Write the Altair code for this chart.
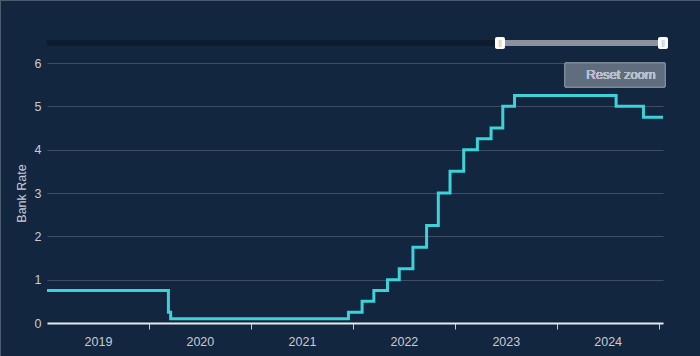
import altair as alt
import pandas as pd

# Bank Rate change dates and values
dates = ["2018-08-02", "2020-03-11", "2020-03-19", "2021-12-16", "2022-02-03",
         "2022-03-17", "2022-05-05", "2022-06-16", "2022-08-04", "2022-09-22",
         "2022-11-03", "2022-12-15", "2023-02-02", "2023-03-23", "2023-05-11",
         "2023-06-22", "2023-08-03", "2024-08-01", "2024-11-07", "2025-01-16"]
rates = [0.75, 0.25, 0.10, 0.25, 0.50,
         0.75, 1.00, 1.25, 1.75, 2.25,
         3.00, 3.50, 4.00, 4.25, 4.50,
         5.00, 5.25, 5.00, 4.75, 4.75]

x_start = "2019-01-01"
x_end = "2025-01-16"
tick_years = [2019, 2020, 2021, 2022, 2023, 2024, 2025]
y_ticks = [0, 1, 2, 3, 4, 5, 6]

BG = "#13263f"
FONT = "Liberation Sans"

df = pd.DataFrame({"date": dates, "rate": rates})

W, H = 616, 260

x_scale = alt.Scale(domain=[x_start, x_end])
x_axis = alt.Axis(
    title=None,
    values=[alt.DateTime(year=y, month=1, date=1) for y in tick_years],
    labelExpr="year(datum.value) < 2025 ? timeFormat(datum.value, '%Y') : ''",
    labelOffset=51,
    labelFlush=False,
    labelOverlap=False,
    labelColor="#c8ccd2",
    labelFontSize=12.5,
    labelPadding=6,
    domainColor="#e6e9ee",
    domainWidth=2,
    tickColor={"condition": {"test": "year(datum.value) == 2019", "value": "transparent"},
               "value": "#c8ccd2"},
    tickSize=6,
    grid=False,
)
y_axis = alt.Axis(
    title="Bank Rate",
    values=y_ticks,
    labelColor="#c8ccd2",
    labelFontSize=12.5,
    labelPadding=6,
    titleColor="#c8ccd2",
    titleFontSize=12.5,
    titleFontWeight="normal",
    titlePadding=6,
    domain=False,
    ticks=False,
    gridColor="#3e4e63",
    gridWidth=1,
)

line = alt.Chart(df).mark_line(
    interpolate="step-after", color="#3bd3d8", strokeWidth=3, clip=True
).encode(
    x=alt.X("date:T", scale=x_scale, axis=x_axis),
    y=alt.Y("rate:Q", scale=alt.Scale(domain=[0, 6]), axis=y_axis),
)

# navigator decorations
track = alt.Chart(df).mark_rule(color="#0e1c2f", strokeWidth=6).encode(
    x=alt.value(0), x2=alt.value(618), y=alt.value(-20)
)
sel = alt.Chart(df).mark_rule(color="#8a939e", strokeWidth=6).encode(
    x=alt.value(453), x2=alt.value(616), y=alt.value(-20)
)
handles_df = pd.DataFrame({"hx": [453, 616]})
handles = alt.Chart(handles_df).mark_rect(
    color="#ffffff", cornerRadius=2, width=10, height=12
).encode(x=alt.X("hx:Q", scale=None), y=alt.value(-20))
handle_lines = alt.Chart(handles_df).mark_text(
    text="||", color="#9aa3ad", fontSize=7, font=FONT
).encode(x=alt.X("hx:Q", scale=None), y=alt.value(-20))

# reset zoom button
button = alt.Chart(df).mark_rect(
    fill="#5f6d7f", stroke="#7d8997", strokeWidth=1
).encode(x=alt.value(518), x2=alt.value(618), y=alt.value(0), y2=alt.value(24))
button_text = alt.Chart(df).mark_text(
    text="Reset zoom", color="#b9c0c8", fontSize=13, fontWeight="normal", font=FONT,
    align="center", baseline="middle"
).encode(x=alt.value(574), y=alt.value(12))

# outer border
border_top = alt.Chart(df).mark_rule(color="#4d5d70", strokeWidth=1).encode(
    x=alt.value(-47), x2=alt.value(653), y=alt.value(-62.5)
)
border_left = alt.Chart(df).mark_rule(color="#4d5d70", strokeWidth=1).encode(
    x=alt.value(-46.5), y=alt.value(-63), y2=alt.value(293)
)

chart = alt.layer(
    line, track, sel, handles, handle_lines, button, button_text, border_top, border_left
).properties(
    width=W, height=H,
    autosize=alt.AutoSizeParams(type="none"),
    padding={"left": 47, "top": 63, "right": 37, "bottom": 33},
    background=BG,
).configure(font=FONT).configure_view(stroke=None, strokeWidth=0)

chart.save("out.html", embed_options={"renderer": "svg", "actions": False})
